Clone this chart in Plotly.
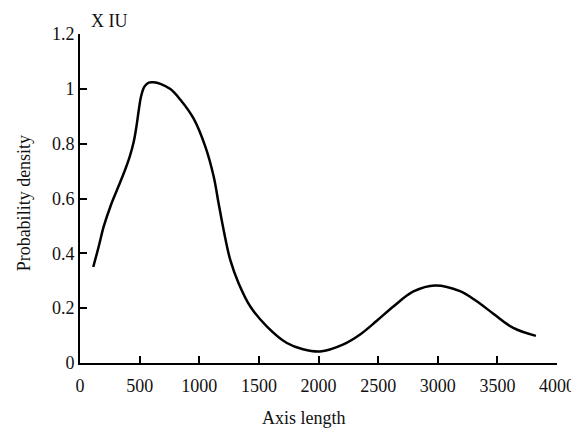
import plotly.graph_objects as go

# Data
axis_length = [111, 157, 199, 255, 311, 367, 417, 451, 473, 493, 512, 540, 577, 618, 674,
               758, 842, 953, 1051, 1121, 1162, 1204, 1260, 1330, 1428, 1568, 1735,
               1870, 2014, 2209, 2349, 2489, 2628, 2796, 2977, 3187, 3327, 3466, 3633, 3823]
density = [0.350, 0.425, 0.498, 0.571, 0.632, 0.692, 0.753, 0.808, 0.862, 0.923, 0.972,
           1.008, 1.023, 1.024, 1.018, 0.999, 0.960, 0.891, 0.789, 0.680, 0.583, 0.486,
           0.376, 0.291, 0.206, 0.133, 0.073, 0.050, 0.042, 0.068, 0.104, 0.154, 0.206,
           0.261, 0.283, 0.262, 0.225, 0.180, 0.128, 0.099]
x_ticks = [0, 500, 1000, 1500, 2000, 2500, 3000, 3500, 4000]
y_ticks = [0, 0.2, 0.4, 0.6, 0.8, 1, 1.2]
y_tick_text = ["0", "0.2", "0.4", "0.6", "0.8", "1", "1.2"]

FONT = "Liberation Serif, Times New Roman, serif"

fig = go.Figure()
fig.add_trace(go.Scatter(
    x=axis_length, y=density, mode="lines",
    line=dict(color="black", width=2.5, shape="spline", smoothing=1.0),
    showlegend=False, hoverinfo="skip",
))

W, H = 571, 430
L, R, T, B = 79.5, 14.3, 34, 66.7

fig.update_layout(
    width=W, height=H,
    margin=dict(l=L, r=R, t=T, b=B, pad=0, autoexpand=False),
    paper_bgcolor="white", plot_bgcolor="white",
    font=dict(family=FONT, size=18, color="#111"),
    xaxis=dict(
        range=[0, 4000], tickvals=x_ticks, ticktext=[str(v) for v in x_ticks],
        showgrid=False, zeroline=False, showline=True, linecolor="black", linewidth=2,
        ticks="inside", ticklen=7, tickwidth=2, tickcolor="black",
        ticklabelstandoff=5, ticklabeloverflow="allow", automargin=False,
    ),
    yaxis=dict(
        range=[0, 1.2], tickvals=y_ticks, ticktext=y_tick_text,
        showgrid=False, zeroline=False, showline=True, linecolor="black", linewidth=2,
        ticks="inside", ticklen=7, tickwidth=2, tickcolor="black",
        ticklabelstandoff=0, automargin=False,
    ),
    annotations=[
        dict(text="Axis length", xref="paper", yref="paper",
             x=(304 - L) / (W - L - R), y=-(418 - (H - B)) / (H - T - B),
             showarrow=False, xanchor="center", yanchor="middle",
             font=dict(family=FONT, size=18, color="#111")),
        dict(text="Probability density", xref="paper", yref="paper",
             x=-(L - 23) / (W - L - R), y=(H - B - 203) / (H - T - B),
             textangle=-90, showarrow=False, xanchor="center", yanchor="middle",
             font=dict(family=FONT, size=18, color="#111")),
        dict(text="X IU", xref="paper", yref="paper",
             x=(89 - L) / (W - L - R), y=1 + (T - 21) / (H - T - B),
             showarrow=False, xanchor="left", yanchor="middle",
             font=dict(family=FONT, size=18, color="#111")),
    ],
)

fig.write_html("out.html", config={"displayModeBar": False},
               post_script="document.body.style.margin='0';document.body.style.overflow='hidden';")
